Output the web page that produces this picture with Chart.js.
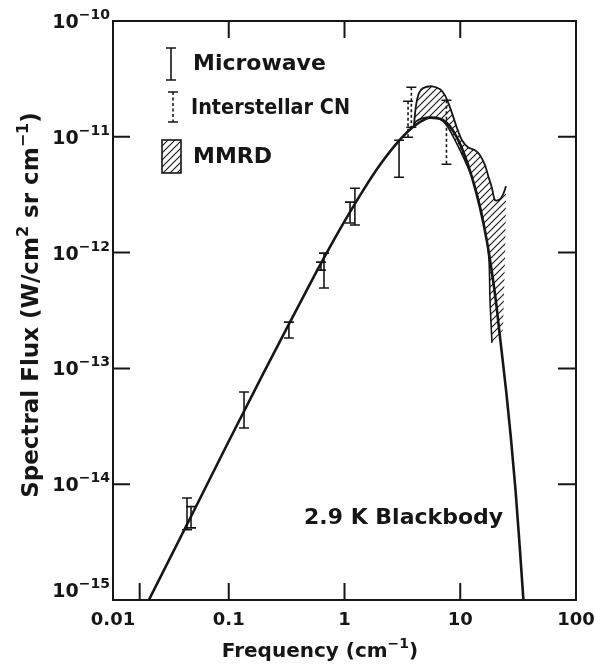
<!DOCTYPE html>
<html>
<head>
<meta charset="utf-8">
<script src="https://cdn.jsdelivr.net/npm/chart.js@4.4.1/dist/chart.umd.min.js"></script>
<style>
  html, body { margin: 0; padding: 0; background: #fff; }
</style>
</head>
<body>
<canvas id="chart" width="595" height="665"></canvas>
<script>
// ---- data ----
const xTickValues = [0.01, 0.1, 1, 10, 100];
const xTickLabels = ["0.01", "0.1", "1", "10", "100"];
const xBottomMarks = [0.017, 0.1, 1, 10];
const xTopMarks = [0.1, 1, 10];
const yTickValues = [1e-10, 1e-11, 1e-12, 1e-13, 1e-14, 1e-15];
const yTickExponents = ["−10", "−11", "−12", "−13", "−14", "−15"];
const ySideMarks = [1e-11, 1e-12, 1e-13, 1e-14];

// 2.9 K blackbody curve
const bbFreq = [0.02, 0.05, 0.1, 0.2, 0.33, 0.5, 0.7, 1, 1.5, 2, 3, 4, 5, 5.5, 6.3, 7.7,
  9.4, 11, 12.6, 14.8, 17, 18.8, 20.4, 22, 25, 27.4, 30, 32.8, 36];
const bbFlux = [9.6e-16, 5.9e-15, 2.35e-14, 9.15e-14, 2.4e-13, 5.3e-13, 9.9e-13, 1.86e-12,
  3.64e-12, 5.62e-12, 9.39e-12, 1.24e-11, 1.42e-11, 1.46e-11, 1.45e-11, 1.31e-11,
  9.8e-12, 6.8e-12, 4.5e-12, 2.45e-12, 1.25e-12, 6.7e-13, 3.7e-13, 1.9e-13, 6.2e-14,
  2.5e-14, 9e-15, 2.7e-15, 7e-16];

// microwave measurements (solid error bars)
const microFreq = [0.0436, 0.0472, 0.1355, 0.331, 0.626, 0.665, 1.116, 1.23, 2.96];
const microLow = [4.04e-15, 4.2e-15, 3.06e-14, 1.83e-13, 7.06e-13, 4.94e-13, 1.8e-12, 1.73e-12, 4.48e-12];
const microHigh = [7.6e-15, 6.4e-15, 6.25e-14, 2.51e-13, 8.28e-13, 9.9e-13, 2.73e-12, 3.6e-12, 9.35e-12];

// interstellar CN (dashed error bars)
const cnFreq = [3.54, 3.78, 7.6];
const cnLow = [9.9e-12, 1.21e-11, 5.8e-12];
const cnHigh = [2.03e-11, 2.68e-11, 2.07e-11];

// MMRD hatched band: upper edge, right edge, lower edge
const mmrdUpperFreq = [3.98, 4.15, 4.4, 4.77, 5.7, 6.69, 7.38, 7.84, 8.49, 9.37, 10.35, 11.67,
  13.41, 14.81, 16.36, 17.37, 18.81, 19.97, 22.05, 23.88, 24.85];
const mmrdUpperFlux = [1.26e-11, 1.87e-11, 2.38e-11, 2.63e-11, 2.73e-11, 2.57e-11, 2.28e-11,
  1.99e-11, 1.6e-11, 1.19e-11, 9.35e-12, 8.13e-12, 7.66e-12, 6.94e-12, 5.69e-12, 4.66e-12,
  3.6e-12, 2.84e-12, 2.89e-12, 3.33e-12, 3.75e-12];
const mmrdRightFreq = [24.85, 24.36, 23.4];
const mmrdRightFlux = [2.84e-12, 8.6e-13, 2.14e-13];
const mmrdLowerFreq = [3.98, 4.15, 4.77, 5.48, 6.3, 7.1, 7.84, 9.01, 9.95, 11.21, 12.89, 14.81,
  16.69, 17.72, 18.07, 18.81];
const mmrdLowerFlux = [1.26e-11, 1.36e-11, 1.45e-11, 1.48e-11, 1.45e-11, 1.36e-11, 1.21e-11,
  9.35e-12, 7.66e-12, 5.92e-12, 4.22e-12, 2.57e-12, 1.42e-12, 8.62e-13, 3.89e-13, 1.66e-13];

const legendLabels = ["Microwave", "Interstellar CN", "MMRD"];
const curveLabel = "2.9 K Blackbody";

// ---- helpers ----
const INK = "#161616";
const FONT = "'DejaVu Sans', sans-serif";

const pts = (xs, ys) => xs.map((v, i) => ({ x: v, y: ys[i] }));

function hatchPattern() {
  const c = document.createElement("canvas");
  c.width = 7;
  c.height = 7;
  const g = c.getContext("2d");
  g.strokeStyle = INK;
  g.lineWidth = 1.1;
  g.beginPath();
  g.moveTo(-1, 8); g.lineTo(8, -1);
  g.moveTo(-1, 1); g.lineTo(1, -1);
  g.moveTo(6, 8); g.lineTo(8, 6);
  g.stroke();
  return g.createPattern(c, "repeat");
}
const hatch = hatchPattern();

// draw text made of [text, isSuperscript] parts
function richText(ctx, parts, x, y, align, size, supSize, rise) {
  const fonts = parts.map(p => `bold ${p[1] ? supSize : size}px ${FONT}`);
  let w = 0;
  parts.forEach((p, i) => { ctx.font = fonts[i]; w += ctx.measureText(p[0]).width; });
  let cx = align === "center" ? x - w / 2 : align === "right" ? x - w : x;
  ctx.textAlign = "left";
  ctx.textBaseline = "alphabetic";
  parts.forEach((p, i) => {
    ctx.font = fonts[i];
    ctx.fillText(p[0], cx, p[1] ? y - rise : y);
    cx += ctx.measureText(p[0]).width;
  });
}

function errorBar(ctx, px, top, bottom, dashed) {
  ctx.save();
  ctx.lineWidth = 1.6;
  ctx.strokeStyle = INK;
  ctx.beginPath();
  ctx.moveTo(px - 5, top); ctx.lineTo(px + 5, top);
  ctx.moveTo(px - 5, bottom); ctx.lineTo(px + 5, bottom);
  ctx.stroke();
  if (dashed) ctx.setLineDash([3, 2.5]);
  ctx.beginPath();
  ctx.moveTo(px, top); ctx.lineTo(px, bottom);
  ctx.stroke();
  ctx.restore();
}

const decorations = {
  id: "decorations",
  afterDatasetsDraw(chart) {
    const { ctx, chartArea: a, scales: { x, y } } = chart;
    ctx.save();

    // error bars
    microFreq.forEach((f, i) => {
      errorBar(ctx, x.getPixelForValue(f), y.getPixelForValue(microHigh[i]), y.getPixelForValue(microLow[i]), false);
    });
    cnFreq.forEach((f, i) => {
      errorBar(ctx, x.getPixelForValue(f), y.getPixelForValue(cnHigh[i]), y.getPixelForValue(cnLow[i]), true);
    });

    // frame and inward ticks
    ctx.strokeStyle = INK;
    ctx.lineWidth = 2;
    ctx.strokeRect(a.left, a.top, a.right - a.left, a.bottom - a.top);
    ctx.beginPath();
    xBottomMarks.forEach(v => {
      const px = x.getPixelForValue(v);
      ctx.moveTo(px, a.bottom); ctx.lineTo(px, a.bottom - 17);
    });
    xTopMarks.forEach(v => {
      const px = x.getPixelForValue(v);
      ctx.moveTo(px, a.top); ctx.lineTo(px, a.top + 17);
    });
    ySideMarks.forEach(v => {
      const py = y.getPixelForValue(v);
      ctx.moveTo(a.left, py); ctx.lineTo(a.left + 17, py);
      ctx.moveTo(a.right, py); ctx.lineTo(a.right - 18, py);
    });
    ctx.stroke();

    ctx.fillStyle = INK;
    // tick labels
    ctx.font = `bold 18px ${FONT}`;
    ctx.textAlign = "center";
    ctx.textBaseline = "alphabetic";
    xTickValues.forEach((v, i) => {
      ctx.fillText(xTickLabels[i], x.getPixelForValue(v), a.bottom + 25);
    });
    yTickValues.forEach((v, i) => {
      let base = y.getPixelForValue(v) + 7;
      if (i === yTickValues.length - 1) base = a.bottom - 3;
      richText(ctx, [["10", false], [yTickExponents[i], true]], a.left - 3, base, "right", 19, 14, 9);
    });

    // axis titles
    richText(ctx, [["Frequency (cm", false], ["−1", true], [")", false]], 320, 657, "center", 20, 14, 9);
    ctx.save();
    ctx.translate(38, 305);
    ctx.rotate(-Math.PI / 2);
    richText(ctx, [["Spectral Flux (W/cm", false], ["2", true], [" sr cm", false], ["−1", true], [")", false]],
      0, 0, "center", 23, 16, 10);
    ctx.restore();

    // legend
    errorBar(ctx, 171, 48, 80, false);
    errorBar(ctx, 173, 92, 122, true);
    ctx.fillStyle = hatch;
    ctx.fillRect(162, 140, 19, 33);
    ctx.lineWidth = 1.6;
    ctx.strokeRect(162, 140, 19, 33);
    ctx.fillStyle = INK;
    ctx.font = `bold 22px ${FONT}`;
    ctx.textAlign = "left";
    ctx.textBaseline = "middle";
    ctx.fillText(legendLabels[0], 193, 64, 137);
    ctx.fillText(legendLabels[1], 191, 108, 159);
    ctx.fillText(legendLabels[2], 193, 157, 82);

    // curve annotation
    ctx.fillText(curveLabel, 304, 518, 200);
    ctx.restore();
  }
};

const polygon = pts(mmrdUpperFreq, mmrdUpperFlux)
  .concat(pts(mmrdRightFreq, mmrdRightFlux))
  .concat(pts(mmrdLowerFreq, mmrdLowerFlux).reverse());

new Chart(document.getElementById("chart"), {
  type: "scatter",
  data: {
    datasets: [
      {
        label: "2.9 K Blackbody",
        data: pts(bbFreq, bbFlux),
        showLine: true,
        borderColor: INK,
        borderWidth: 2.6,
        pointRadius: 0,
        cubicInterpolationMode: "monotone",
        fill: false,
      },
      {
        label: "MMRD upper",
        data: pts(mmrdUpperFreq, mmrdUpperFlux),
        showLine: true,
        borderColor: INK,
        borderWidth: 1.8,
        pointRadius: 0,
        tension: 0.3,
        fill: false,
      },
      {
        label: "MMRD lower",
        data: pts(mmrdLowerFreq, mmrdLowerFlux),
        showLine: true,
        borderColor: INK,
        borderWidth: 1.6,
        pointRadius: 0,
        tension: 0.3,
        fill: false,
      },
      {
        label: "MMRD",
        data: polygon,
        showLine: true,
        borderWidth: 0,
        borderColor: "rgba(0,0,0,0)",
        backgroundColor: hatch,
        pointRadius: 0,
        tension: 0,
        fill: "shape",
      },
    ],
  },
  options: {
    responsive: false,
    devicePixelRatio: 1,
    animation: false,
    layout: { padding: { left: 113, right: 19, top: 21, bottom: 65 } },
    plugins: {
      legend: { display: false },
      tooltip: { enabled: false },
    },
    scales: {
      x: { type: "logarithmic", min: 0.01, max: 100, display: false },
      y: { type: "logarithmic", min: 1e-15, max: 1e-10, display: false },
    },
  },
  plugins: [decorations],
});
</script>
</body>
</html>
